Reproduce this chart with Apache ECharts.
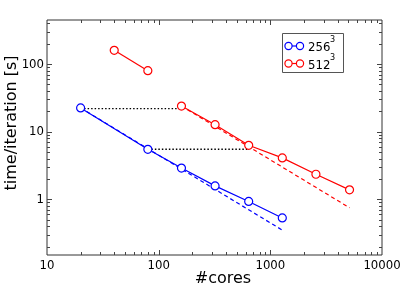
<!DOCTYPE html>
<html><head><meta charset="utf-8">
<script src="https://cdn.jsdelivr.net/npm/echarts@6/dist/echarts.min.js"></script>
<style>html,body{margin:0;padding:0;background:#fff}#c{width:415px;height:294px}</style>
</head><body><div id="c"></div>
<script>
// ---- data ----
const cores256 = [20, 80, 160, 320, 640, 1280];
const time256 = [22.5, 5.5, 2.9, 1.58, 0.93, 0.53];
const cores512a = [40, 80];
const time512a = [160, 80];
const cores512b = [160, 320, 640, 1280, 2560, 5120];
const time512b = [24, 12.7, 6.3, 4.1, 2.35, 1.38];
const ideal256 = [[20, 22.5], [1280, 0.35]];
const ideal512 = [[160, 24], [5120, 0.75]];
const dotted1 = [[20, 22], [160, 22]];
const dotted2 = [[80, 5.5], [640, 5.5]];
const xRange = [10, 10000];
const yRange = [0.15, 450];
const xTickLabels = [10, 100, 1000, 10000];
const yTickLabels = [1, 10, 100];
const legendNames = ['256', '512'];

const FONT = 'DejaVu Sans Condensed, DejaVu Sans, sans-serif';
const TFONT = 'DejaVu Sans, sans-serif';
const BLUE = '#0000ff', RED = '#ff0000';
const zip = (a, b) => a.map((v, i) => [v, b[i]]);

function minorTicks(lo, hi) {
  const out = [];
  for (let e = Math.floor(Math.log10(lo)); e <= Math.ceil(Math.log10(hi)); e++) {
    for (let m = 1; m <= 9; m++) {
      const v = m * Math.pow(10, e);
      if (v > lo * 1.0001 && v < hi * 0.9999) out.push({ v, major: m === 1 });
    }
  }
  return out;
}

const chart = echarts.init(document.getElementById('c'));
const isPow10 = v => Math.abs(Math.log10(v) - Math.round(Math.log10(v))) < 1e-6;

function lineSeries(data, color, extra) {
  return Object.assign({
    type: 'line', data, symbol: 'circle', symbolSize: 8,
    itemStyle: { color: '#fff', borderColor: color, borderWidth: 1.2 },
    lineStyle: { color, width: 1.2 }, animation: false, z: 3
  }, extra || {});
}
function plainLine(data, color, type, width) {
  return { type: 'line', data, symbol: 'none', lineStyle: { color, width, type }, animation: false, z: 2 };
}

const option = {
  animation: false,
  grid: { left: 47, top: 20, right: 33, bottom: 39, show: true, borderColor: '#333', borderWidth: 1, backgroundColor: 'transparent' },
  xAxis: {
    type: 'log', logBase: 10, min: xRange[0], max: xRange[1],
    axisLine: { show: false }, axisTick: { show: false }, splitLine: { show: false },
    axisLabel: { fontFamily: FONT, fontSize: 13, color: '#000', margin: 4,
      formatter: v => (isPow10(v) && xTickLabels.includes(Math.round(v))) ? String(Math.round(v)) : '' }
  },
  yAxis: {
    type: 'log', logBase: 10, min: yRange[0], max: yRange[1],
    axisLine: { show: false }, axisTick: { show: false }, splitLine: { show: false },
    axisLabel: { fontFamily: FONT, fontSize: 13, color: '#000', margin: 3, showMinLabel: true, showMaxLabel: true,
      formatter: v => (isPow10(v) && yTickLabels.includes(Math.round(v))) ? String(Math.round(v)) : '' }
  },
  series: [
    plainLine(dotted1, '#000', [1.5, 2], 1.4),
    plainLine(dotted2, '#000', [1.5, 2], 1.4),
    plainLine(ideal256, BLUE, [4, 3], 1.2),
    plainLine(ideal512, RED, [4, 3], 1.2),
    lineSeries(zip(cores256, time256), BLUE),
    lineSeries(zip(cores512a, time512a), RED),
    lineSeries(zip(cores512b, time512b), RED),
    {
      type: 'custom', data: [[10, 1]], clip: false, silent: true, z: 5,
      renderItem: function (params, api) {
        const children = [];
        const st = { stroke: '#444', lineWidth: 1 };
        minorTicks(xRange[0], xRange[1]).forEach(t => {
          const len = t.major ? 5 : 3;
          const b = api.coord([t.v, yRange[0]]);
          const tp = api.coord([t.v, yRange[1]]);
          const x = Math.round(b[0]) + 0.5;
          children.push({ type: 'line', shape: { x1: x, y1: b[1], x2: x, y2: b[1] - len }, style: st });
          children.push({ type: 'line', shape: { x1: x, y1: tp[1], x2: x, y2: tp[1] + len }, style: st });
        });
        minorTicks(yRange[0], yRange[1]).forEach(t => {
          const len = t.major ? 5 : 3;
          const l = api.coord([xRange[0], t.v]);
          const r = api.coord([xRange[1], t.v]);
          const y = Math.round(l[1]) + 0.5;
          children.push({ type: 'line', shape: { x1: l[0], y1: y, x2: l[0] + len, y2: y }, style: st });
          children.push({ type: 'line', shape: { x1: r[0], y1: y, x2: r[0] - len, y2: y }, style: st });
        });
        return { type: 'group', children };
      }
    }
  ],
  graphic: [
    { type: 'text', x: 12, y: 123, rotation: Math.PI / 2, style: { text: 'time/iteration [s]', fontFamily: TFONT, fontSize: 16, fill: '#000', align: 'center', verticalAlign: 'middle' } },
    { type: 'text', x: 223, y: 279, style: { text: '#cores', fontFamily: TFONT, fontSize: 16, fill: '#000', align: 'center', verticalAlign: 'middle' } },
    { type: 'rect', shape: { x: 282.5, y: 33.5, width: 61, height: 39 }, style: { fill: '#fff', stroke: '#555', lineWidth: 1 }, z: 10 },
    { type: 'line', shape: { x1: 285, y1: 46, x2: 303, y2: 46 }, style: { stroke: BLUE, lineWidth: 1.2 }, z: 11 },
    { type: 'circle', shape: { cx: 288.5, cy: 46, r: 3.6 }, style: { fill: '#fff', stroke: BLUE, lineWidth: 1.2 }, z: 12 },
    { type: 'circle', shape: { cx: 300, cy: 46, r: 3.6 }, style: { fill: '#fff', stroke: BLUE, lineWidth: 1.2 }, z: 12 },
    { type: 'line', shape: { x1: 285, y1: 63.5, x2: 303, y2: 63.5 }, style: { stroke: RED, lineWidth: 1.2 }, z: 11 },
    { type: 'circle', shape: { cx: 288.5, cy: 63.5, r: 3.6 }, style: { fill: '#fff', stroke: RED, lineWidth: 1.2 }, z: 12 },
    { type: 'circle', shape: { cx: 300, cy: 63.5, r: 3.6 }, style: { fill: '#fff', stroke: RED, lineWidth: 1.2 }, z: 12 },
    { type: 'text', x: 308, y: 48, z: 12, style: { text: legendNames[0], fontFamily: FONT, fontSize: 13, fill: '#000', verticalAlign: 'middle' } },
    { type: 'text', x: 330, y: 40, z: 12, style: { text: '3', fontFamily: FONT, fontSize: 9, fill: '#000', verticalAlign: 'middle' } },
    { type: 'text', x: 308, y: 66, z: 12, style: { text: legendNames[1], fontFamily: FONT, fontSize: 13, fill: '#000', verticalAlign: 'middle' } },
    { type: 'text', x: 330, y: 58, z: 12, style: { text: '3', fontFamily: FONT, fontSize: 9, fill: '#000', verticalAlign: 'middle' } }
  ]
};
chart.setOption(option);
</script>
</body></html>
